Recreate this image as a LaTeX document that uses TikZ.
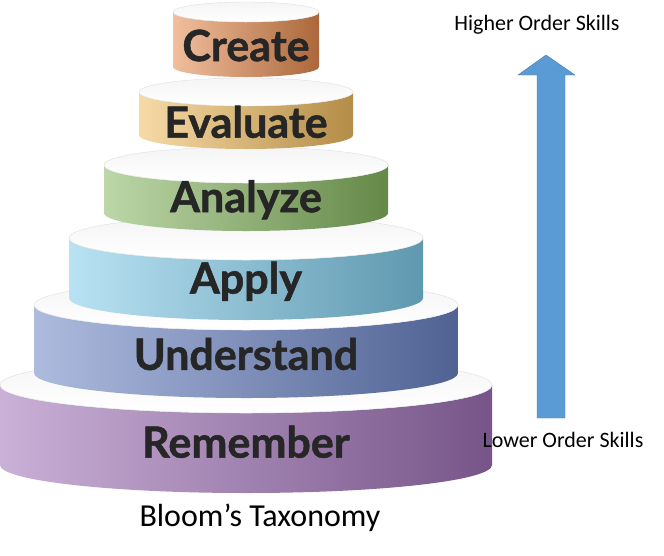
\documentclass[tikz,border=0pt]{standalone}
\usepackage{fontspec}
\setmainfont{Carlito}
\newfontfamily\tierfont[BoldFeatures={FakeBold=1.2}]{Lato}
\usetikzlibrary{positioning}
\definecolor{createC}{HTML}{E58A4E}
\definecolor{evalC}{HTML}{F0BC5E}
\definecolor{analyzeC}{HTML}{86B660}
\definecolor{applyC}{HTML}{7FCBEA}
\definecolor{underC}{HTML}{6A83C4}
\definecolor{rememC}{HTML}{9E70B6}
\definecolor{arrowC}{HTML}{5B9BD5}
\tikzset{
  toptier/.style={fill=white, top color=gray!8, bottom color=white, draw=gray!25},
  tierlabel/.style={font=\tierfont\bfseries\fontsize{43}{43}\selectfont, text=black!85},
  skilllabel/.style={font=\fontsize{22}{22}\selectfont},
}
\begin{document}
\begin{tikzpicture}[x=1pt, y=-1pt]
  \useasboundingbox (0,0) rectangle (664,555);
  \def\cx{246}
  % a / b / yt / h / colour / label / name
  \foreach \a/\b/\yt/\h/\col/\txt/\nm in {
      246/28/385/80/rememC/Remember/rem,
      212/25/305/68/underC/Understand/und,
      177/22/238/60/applyC/Apply/app,
      142/18/165/48/analyzeC/Analyze/ana,
      107/14/92/43/evalC/Evaluate/eva,
      73/10/12/55/createC/Create/cre} {
    \path[left color=\col!55!white, middle color=\col, right color=\col!75!black]
      (\cx-\a,\yt) -- (\cx-\a,\yt+\h)
      arc[start angle=180, end angle=0, x radius=\a, y radius=\b]
      -- (\cx+\a,\yt)
      arc[start angle=0, end angle=180, x radius=\a, y radius=\b] -- cycle;
    \path[toptier] (\cx,\yt) ellipse[x radius=\a, y radius=\b];
    \node[tierlabel] (\nm) at (\cx,\yt+0.5*\h+0.6*\b) {\txt};
  }
  %
  \fill[arrowC, draw=arrowC!80!black] (537,418) -- (537,75) -- (518,75) -- (546,55)
    -- (575,75) -- (565,75) -- (565,418) -- cycle;
  \node[skilllabel] (high) at (537,25) {Higher Order Skills};
  \node[skilllabel] (low) at (563,440) {Lower Order Skills};
  \node[font=\fontsize{32}{32}\selectfont] (title) at (260,518) {Bloom’s Taxonomy};
\end{tikzpicture}
\end{document}
